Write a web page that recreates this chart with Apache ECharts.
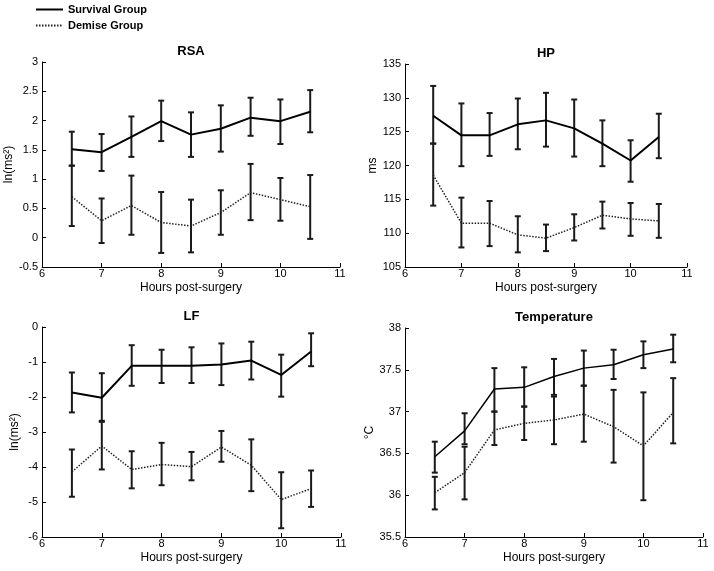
<!DOCTYPE html>
<html><head><meta charset="utf-8">
<script src="https://cdn.jsdelivr.net/npm/echarts@6/dist/echarts.min.js"></script>
<style>html,body{margin:0;padding:0;background:#fff}#c{width:714px;height:571px}</style>
</head><body><div id="c"></div>
<script>
const hours = [6.5, 7, 7.5, 8, 8.5, 9, 9.5, 10, 10.5];
const groupNames = ['Survival Group', 'Demise Group'];
const panelTitles = ['RSA', 'HP', 'LF', 'Temperature'];
const yAxisNames = ['ln(ms\u00B2)', 'ms', 'ln(ms\u00B2)', '\u00B0C'];
const xAxisName = 'Hours post-surgery';

const rsaSurvMean = [1.51, 1.46, 1.72, 1.99, 1.76, 1.86, 2.05, 1.99, 2.15];
const rsaSurvLow  = [1.23, 1.14, 1.38, 1.65, 1.38, 1.47, 1.74, 1.60, 1.80];
const rsaSurvHigh = [1.81, 1.77, 2.07, 2.34, 2.14, 2.26, 2.39, 2.36, 2.52];
const rsaDemMean  = [0.70, 0.29, 0.55, 0.26, 0.20, 0.43, 0.77, 0.65, 0.53];
const rsaDemLow   = [0.20, -0.09, 0.05, -0.26, -0.25, 0.05, 0.30, 0.29, -0.02];
const rsaDemHigh  = [1.23, 0.67, 1.06, 0.78, 0.65, 0.81, 1.26, 1.02, 1.07];

const hpSurvMean = [127.35, 124.46, 124.46, 126.08, 126.67, 125.49, 123.24, 120.74, 124.22];
const hpSurvLow  = [123.24, 119.90, 121.42, 122.40, 122.79, 121.32, 119.90, 117.60, 121.08];
const hpSurvHigh = [131.76, 129.17, 127.75, 129.90, 130.74, 129.75, 126.67, 123.73, 127.65];
const hpDemMean  = [118.58, 111.47, 111.47, 109.75, 109.26, 110.83, 112.65, 112.11, 111.81];
const hpDemLow   = [114.07, 107.89, 108.09, 107.16, 107.35, 108.92, 110.69, 109.61, 109.31];
const hpDemHigh  = [123.24, 115.25, 114.75, 112.50, 111.27, 112.79, 114.66, 114.46, 114.31];

const lfSurvMean = [-1.87, -2.02, -1.11, -1.11, -1.11, -1.07, -0.96, -1.37, -0.70];
const lfSurvLow  = [-2.44, -2.68, -1.68, -1.60, -1.60, -1.66, -1.50, -1.99, -1.12];
const lfSurvHigh = [-1.30, -1.32, -0.52, -0.65, -0.58, -0.47, -0.42, -0.79, -0.18];
const lfDemMean  = [-4.14, -3.40, -4.07, -3.93, -3.99, -3.43, -3.95, -4.93, -4.62];
const lfDemLow   = [-4.85, -4.07, -4.61, -4.52, -4.38, -3.85, -4.69, -5.75, -5.14];
const lfDemHigh  = [-3.50, -2.71, -3.55, -3.31, -3.57, -2.97, -3.21, -4.15, -4.10];

const tSurvMean = [36.46, 36.77, 37.27, 37.29, 37.42, 37.52, 37.56, 37.68, 37.75];
const tSurvLow  = [36.27, 36.61, 37.00, 37.06, 37.20, 37.31, 37.39, 37.52, 37.59];
const tSurvHigh = [36.64, 36.98, 37.52, 37.53, 37.63, 37.73, 37.74, 37.84, 37.92];
const tDemMean  = [36.03, 36.27, 36.78, 36.86, 36.90, 36.97, 36.82, 36.59, 36.99];
const tDemLow   = [35.83, 35.95, 36.60, 36.66, 36.61, 36.64, 36.39, 35.94, 36.62];
const tDemHigh  = [36.22, 36.58, 37.00, 37.06, 37.18, 37.31, 37.26, 37.23, 37.40];

const yRanges = [
  {min: -0.5, max: 3, interval: 0.5},
  {min: 105, max: 135, interval: 5},
  {min: -6, max: 0, interval: 1},
  {min: 35.5, max: 38, interval: 0.5}
];
const xRange = {min: 6, max: 11, interval: 1};

const panelData = [
  [[rsaSurvMean, rsaSurvLow, rsaSurvHigh], [rsaDemMean, rsaDemLow, rsaDemHigh]],
  [[hpSurvMean, hpSurvLow, hpSurvHigh], [hpDemMean, hpDemLow, hpDemHigh]],
  [[lfSurvMean, lfSurvLow, lfSurvHigh], [lfDemMean, lfDemLow, lfDemHigh]],
  [[tSurvMean, tSurvLow, tSurvHigh], [tDemMean, tDemLow, tDemHigh]]
];

// layout (styling only)
const grids = [
  {left: 42, top: 62, width: 298, height: 205},
  {left: 405, top: 64, width: 282, height: 203},
  {left: 42, top: 327, width: 299, height: 210},
  {left: 405, top: 328, width: 298, height: 209}
];
const yNameGaps = [21, 24, 21, 27];
const survWidths = [2, 2, 2, 1.5];
const FONT = 'Liberation Sans, Arial, sans-serif';

function renderErr(params, api) {
  const x = api.value(0);
  const lo = api.coord([x, api.value(1)]);
  const hi = api.coord([x, api.value(2)]);
  const w = 3;
  const style = {stroke: '#1a1a1a', lineWidth: 2};
  return {type: 'group', children: [
    {type: 'line', shape: {x1: lo[0], y1: lo[1], x2: hi[0], y2: hi[1]}, style: style},
    {type: 'line', shape: {x1: lo[0] - w, y1: lo[1], x2: lo[0] + w, y2: lo[1]}, style: style},
    {type: 'line', shape: {x1: hi[0] - w, y1: hi[1], x2: hi[0] + w, y2: hi[1]}, style: style}
  ]};
}

const axisCommon = {
  axisLine: {onZero: false, lineStyle: {color: '#000', width: 1}},
  axisTick: {inside: true, length: 4, lineStyle: {color: '#000'}},
  splitLine: {show: false},
  axisLabel: {color: '#000', fontSize: 11, fontFamily: FONT},
  nameTextStyle: {color: '#000', fontSize: 12, fontFamily: FONT}
};

const option = {
  animation: false,
  backgroundColor: '#fff',
  textStyle: {fontFamily: FONT},
  legend: {
    data: groupNames,
    orient: 'vertical',
    left: 35, top: 4,
    itemWidth: 27, itemHeight: 10, itemGap: 5,
    padding: 0,
    itemStyle: {opacity: 0},
    textStyle: {fontSize: 11, fontWeight: 'bold', color: '#000', fontFamily: FONT}
  },
  title: grids.map((g, i) => ({
    text: panelTitles[i],
    left: g.left + g.width / 2,
    top: g.top - 17,
    textAlign: 'center',
    padding: 0,
    textStyle: {fontSize: 13, fontWeight: 'bold', color: '#000', fontFamily: FONT}
  })),
  grid: grids,
  xAxis: grids.map((g, i) => Object.assign({}, axisCommon, {
    type: 'value', gridIndex: i,
    min: xRange.min, max: xRange.max, interval: xRange.interval,
    name: xAxisName, nameLocation: 'middle', nameGap: 15,
    axisLabel: Object.assign({}, axisCommon.axisLabel, {margin: 1})
  })),
  yAxis: grids.map((g, i) => Object.assign({}, axisCommon, {
    type: 'value', gridIndex: i,
    min: yRanges[i].min, max: yRanges[i].max, interval: yRanges[i].interval,
    name: yAxisNames[i], nameLocation: 'middle', nameGap: yNameGaps[i],
    axisLabel: Object.assign({}, axisCommon.axisLabel, {margin: 4})
  })),
  series: []
};

panelData.forEach((pd, i) => {
  pd.forEach((grp, gi) => {
    const [mean, low, high] = grp;
    option.series.push({
      type: 'custom', xAxisIndex: i, yAxisIndex: i,
      renderItem: renderErr,
      encode: {x: 0, y: [1, 2]},
      data: hours.map((h, k) => [h, low[k], high[k]]),
      z: 2, silent: true
    });
    option.series.push({
      type: 'line', name: groupNames[gi], xAxisIndex: i, yAxisIndex: i,
      data: hours.map((h, k) => [h, mean[k]]),
      symbol: 'none',
      lineStyle: gi === 0
        ? {color: '#000', width: survWidths[i], type: 'solid'}
        : {color: '#222', width: 1.5, type: [1.5, 1.5]},
      itemStyle: {color: '#000'},
      z: 3, silent: true
    });
  });
});

const chart = echarts.init(document.getElementById('c'), null, {renderer: 'canvas'});
chart.setOption(option);
</script>
</body></html>
